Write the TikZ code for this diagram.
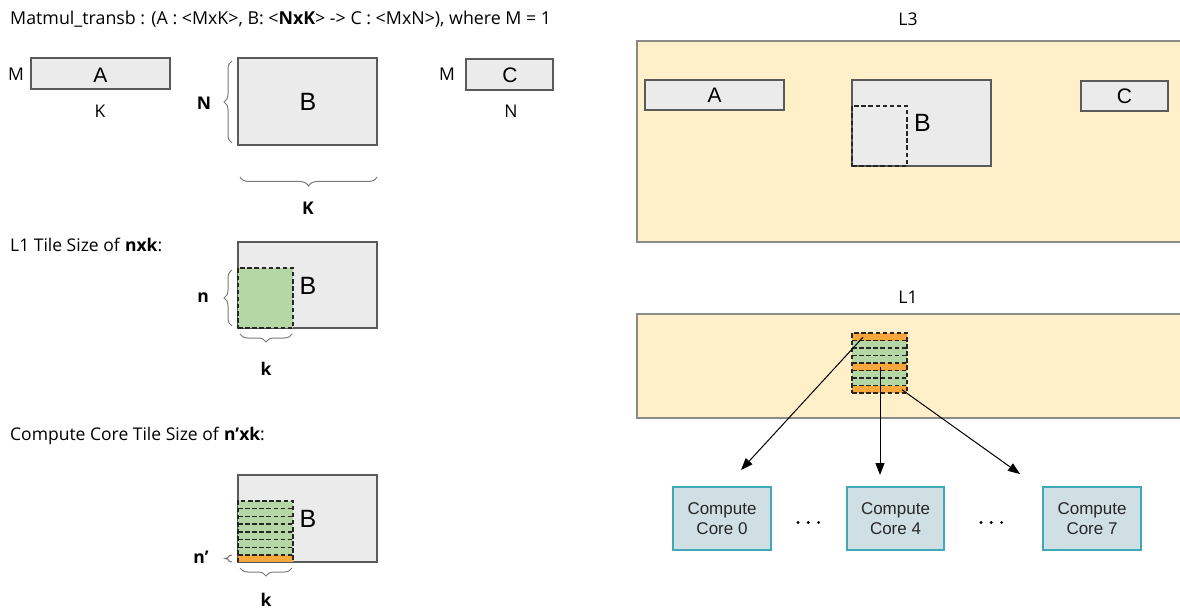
\documentclass[tikz,border=0pt]{standalone}
\usepackage{fontspec}
\setmainfont{Open Sans}
\newfontfamily\arialfont{Liberation Sans}
\usetikzlibrary{decorations.pathreplacing,arrows.meta}

\definecolor{matfill}{HTML}{EBEBEB}
\definecolor{matline}{HTML}{5A5A5A}
\definecolor{memfill}{HTML}{FFF0C9}
\definecolor{memline}{HTML}{8A8A8A}
\definecolor{tilegreen}{HTML}{B5D7A6}
\definecolor{tileorange}{HTML}{F8A73C}
\definecolor{corefill}{HTML}{D0DFE3}
\definecolor{coreline}{HTML}{3FA9B7}
\definecolor{bracegray}{HTML}{7A7A7A}

\tikzset{
  lbl/.style={font=\fontsize{17.5}{20}\selectfont, inner sep=0pt},
  blbl/.style={font=\fontsize{17.5}{20}\selectfont\bfseries, inner sep=0pt},
  matrixbox/.style={draw=matline, fill=matfill, line width=1.1pt, inner sep=0pt,
    font=\arialfont\fontsize{21}{24}\selectfont},
  bigletter/.style={inner sep=0pt, font=\arialfont\fontsize{25}{28}\selectfont},
  membox/.style={draw=memline, fill=memfill, line width=1.1pt, inner sep=0pt},
  tileedge/.style={draw=black!85, line width=1.4pt, dash pattern=on 4.5pt off 2.6pt},
  tilerow/.style={inner sep=0pt, minimum width=55pt, minimum height=7.6pt, draw=none},
  curly/.style={draw=bracegray, line width=1pt, decorate,
    decoration={brace, amplitude=#1}},
  curly/.default=8pt,
  corebox/.style={draw=coreline, fill=corefill, line width=1.2pt, inner sep=0pt,
    minimum height=63pt, align=center, text=black!85,
    font=\arialfont\fontsize{17}{20}\selectfont},
  feed/.style={-{Triangle[length=12pt,width=9pt]}, line width=1pt, black},
}

\begin{document}
\begin{tikzpicture}[x=1pt,y=-1pt]
\useasboundingbox (0,0) rectangle (1180,612);

% ---------- operand shapes ----------
\node[lbl, anchor=west, font=\fontsize{17.8}{20}\selectfont] (title) at (10,19)
  {Matmul\_transb : (A : <MxK>, B: <\textbf{NxK}> -> C : <MxN>), where M = 1};

\node[matrixbox, minimum width=139pt, minimum height=31pt] (A) at (100.5,73.5) {};
\node[inner sep=0pt, font=\arialfont\fontsize{21}{24}\selectfont] (Al) at (100.5,75) {A};
\node[lbl] (AM) at (16,74) {M};
\node[lbl] (AK) at (100,111) {K};

\node[matrixbox, minimum width=139pt, minimum height=87pt] (B) at (307.5,101.5) {};
\node[bigletter] (Bl) at (308,102) {B};
\draw[curly] (232,143) -- (232,61);
\node[blbl] (BN) at (204,103) {N};
\draw[curly=9pt] (377,177) -- (240,177);
\node[blbl] (BK) at (308,208) {K};

\node[matrixbox, minimum width=87pt, minimum height=31pt] (C) at (509.5,74.5) {};
\node[inner sep=0pt, font=\arialfont\fontsize{21}{24}\selectfont] (Cl) at (510,75.5) {C};
\node[lbl] (CM) at (447,74) {M};
\node[lbl] (CN) at (511,111) {N};

% ---------- L1 tile ----------
\node[lbl, anchor=west] (l1title) at (10,245) {L1 Tile Size of \textbf{nxk}:};
\node[matrixbox, minimum width=139pt, minimum height=86pt] (B2) at (307.5,285) {};
\node[tileedge, fill=tilegreen, inner sep=0pt, minimum width=55pt, minimum height=60pt]
  (T2) at (265.5,298) {};
\node[bigletter] (B2l) at (308,286) {B};
\draw[curly] (232,326) -- (232,270);
\node[blbl] (T2n) at (203,298) {n};
\draw[curly] (292,334) -- (240,334);
\node[blbl] (T2k) at (266,369) {k};

% ---------- compute core tile ----------
\node[lbl, anchor=west] (cctitle) at (10,436) {Compute Core Tile Size of \textbf{n’xk}:};
\node[matrixbox, minimum width=139pt, minimum height=87pt] (B3) at (307.5,518.5) {};
\foreach \i in {0,...,6}
  \node[tilerow, fill=tilegreen] (g\i) at (265.5,{501+7.714*\i+3.857}) {};
\node[tilerow, fill=tileorange, minimum height=7pt] (o3) at (265.5,558.5) {};
\foreach \i in {1,...,7}
  \draw[tileedge] (238,{501+7.714*\i}) -- (293,{501+7.714*\i});
\draw[tileedge] (238,562) -- (238,501) -- (293,501) -- (293,562);
\node[bigletter] (B3l) at (308,519) {B};
\draw[curly=7pt] (232,562) -- (232,555);
\node[blbl] (T3n) at (201,557) {n’};
\draw[curly] (292,568) -- (240,568);
\node[blbl] (T3k) at (266,600) {k};

% ---------- L3 memory ----------
\node[lbl] (L3t) at (908,19) {L3};
\node[membox, minimum width=545pt, minimum height=201pt] (L3) at (909.5,141.5) {};
\node[matrixbox, minimum width=139pt, minimum height=30pt] (A3) at (714.5,95) {};
\node[inner sep=0pt, font=\arialfont\fontsize{21}{24}\selectfont] (A3l) at (714.5,95.5) {A};
\node[matrixbox, minimum width=139pt, minimum height=86pt] (B3m) at (921.5,123) {};
\node[tileedge, inner sep=0pt, minimum width=55pt, minimum height=60pt] (T3m) at (879.5,136) {};
\node[bigletter] (B3ml) at (922.5,123) {B};
\node[matrixbox, minimum width=87pt, minimum height=30pt] (C3) at (1124.5,96) {};
\node[inner sep=0pt, font=\arialfont\fontsize{21}{24}\selectfont] (C3l) at (1124.5,96.5) {C};

% ---------- L1 memory ----------
\node[lbl] (L1t) at (908,297) {L1};
\node[membox, minimum width=545pt, minimum height=104pt] (L1) at (909.5,366) {};
\foreach \i/\c in {0/tileorange,1/tilegreen,2/tilegreen,3/tilegreen,4/tileorange,5/tilegreen,6/tilegreen,7/tileorange}
  \node[tilerow, fill=\c, minimum height=7.5pt] (r\i) at (879.5,{333+7.5*\i+3.75}) {};
\foreach \i in {1,...,7}
  \draw[tileedge] (852,{333+7.5*\i}) -- (907,{333+7.5*\i});
\node[tileedge, inner sep=0pt, minimum width=55pt, minimum height=60pt] (stack) at (879.5,363) {};

% ---------- compute cores ----------
\node[corebox, minimum width=98pt] (core0) at (722,518.5) {Compute\\Core 0};
\node[corebox, minimum width=97pt] (core4) at (895.5,518.5) {Compute\\Core 4};
\node[corebox, minimum width=98pt] (core7) at (1092,518.5) {Compute\\Core 7};

% ellipses between the cores
\foreach \x in {798,808.3,818.6,981,991.3,1001.6}
  \fill[black] (\x,522.5) circle (1.6pt);

\coordinate (e0) at (741,470);
\coordinate (e4) at (880,475);
\coordinate (e7) at (1020,474);
\draw[feed] ([xshift=-16.5pt,yshift=-0.5pt]r0.center) -- (e0);
\draw[feed] ([xshift=0.5pt]r4.center) -- (e4);
\draw[feed] ([xshift=22.5pt,yshift=-0.5pt]r7.center) -- (e7);
\end{tikzpicture}
\end{document}
